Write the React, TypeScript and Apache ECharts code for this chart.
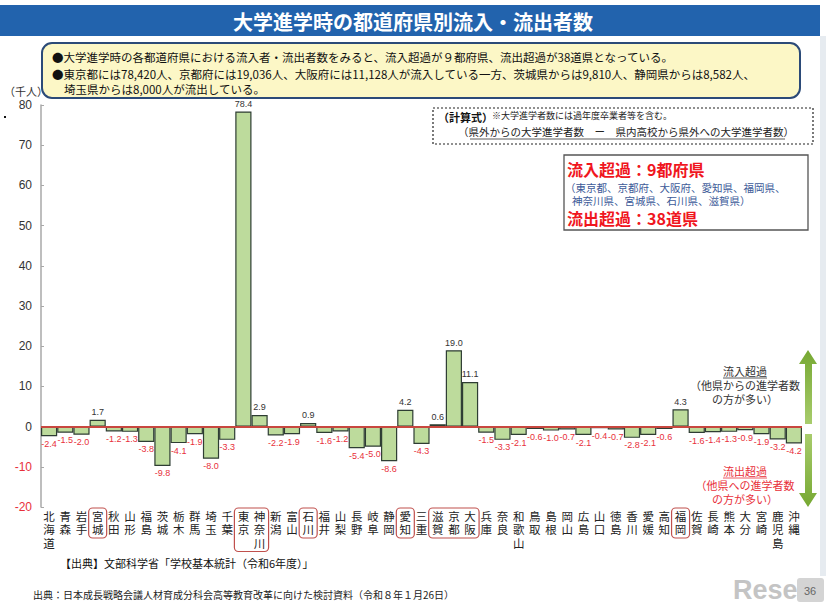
import React, { useEffect, useRef } from "react";
import * as echarts from "echarts";

const prefectures = ["北海道","青森","岩手","宮城","秋田","山形","福島","茨城","栃木","群馬","埼玉","千葉","東京","神奈川","新潟","富山","石川","福井","山梨","長野","岐阜","静岡","愛知","三重","滋賀","京都","大阪","兵庫","奈良","和歌山","鳥取","島根","岡山","広島","山口","徳島","香川","愛媛","高知","福岡","佐賀","長崎","熊本","大分","宮崎","鹿児島","沖縄"];
const netFlow = [-2.4,-1.5,-2.0,1.7,-1.2,-1.3,-3.8,-9.8,-4.1,-1.9,-8.0,-3.3,78.4,2.9,-2.2,-1.9,0.9,-1.6,-1.2,-5.4,-5.0,-8.6,4.2,-4.3,0.6,19.0,11.1,-1.5,-3.3,-2.1,-0.6,-1.0,-0.7,-2.1,-0.4,-0.7,-2.8,-2.1,-0.6,4.3,-1.6,-1.4,-1.3,-0.9,-1.9,-3.2,-4.2];
const boxedGroups = [["宮城","宮城"],["東京","神奈川"],["石川","石川"],["愛知","愛知"],["滋賀","大阪"],["福岡","福岡"]];
const yTicks = { min: -20, max: 80, interval: 10 };

const FONT = '"Noto Sans CJK JP", "Noto Sans", sans-serif';
const RED = "#e8303a";

export default function App() {
  const ref = useRef<HTMLDivElement>(null);
  useEffect(() => {
    if (!ref.current) return;
    const chart = echarts.init(ref.current, null, { renderer: "svg" });
    chart.setOption({
      animation: false,
      textStyle: { fontFamily: FONT },
      grid: { left: 41, right: 24, top: 105, bottom: 97, containLabel: false },
      xAxis: {
        type: "category",
        data: prefectures,
        axisLine: { show: false, onZero: false },
        axisTick: { show: false },
        axisLabel: {
          interval: 0,
          margin: 2,
          fontSize: 11.5,
          lineHeight: 13.5,
          width: 12,
          overflow: "break",
          color: "#222",
          fontFamily: FONT,
        },
      },
      yAxis: {
        type: "value",
        min: yTicks.min,
        max: yTicks.max,
        interval: yTicks.interval,
        splitLine: { show: false },
        axisLine: { show: true, lineStyle: { color: "#a8a8a8", width: 1.5 } },
        axisTick: { show: true, inside: true, length: 3, lineStyle: { color: "#a8a8a8" } },
        axisLabel: {
          margin: 9,
          formatter: (v: number) => (v < 0 ? `{r|${v}}` : `{k|${v}}`),
          rich: {
            r: { color: RED, fontSize: 12, fontFamily: "Liberation Sans, Arial, sans-serif" },
            k: { color: "#333", fontSize: 12, fontFamily: "Liberation Sans, Arial, sans-serif" },
          },
        },
      },
      series: [
        {
          type: "bar",
          data: netFlow.map((v) =>
            v < 0 ? { value: v, label: { position: "bottom" } } : { value: v }
          ),
          barCategoryGap: "0%",
          itemStyle: { color: "#bddb9c", borderColor: "#2e3d33", borderWidth: 1.2 },
          label: {
            show: true,
            fontSize: 9,
            fontFamily: "Liberation Sans, Arial, sans-serif",
            distance: 3,
            formatter: (p: any) => (p.value < 0 ? `{r|${p.value.toFixed(1)}}` : `{k|${p.value.toFixed(1)}}`),
            rich: {
              r: { color: RED, fontSize: 9 },
              k: { color: "#333", fontSize: 9 },
            },
            position: "top",
          },
          markLine: {
            silent: true,
            symbol: "none",
            label: { show: false },
            lineStyle: { color: "#c8473f", width: 1.8, type: "solid" },
            data: [{ yAxis: 0 }],
          },
        },
      ],
    });

    const px = (name: string) =>
      chart.convertToPixel({ xAxisIndex: 0 }, prefectures.indexOf(name)) as number;

    const graphics: any[] = [];
    // title bar
    graphics.push({ type: "rect", shape: { x: 0, y: 5, width: 820, height: 31 }, style: { fill: "#2263ad" } });
    graphics.push({
      type: "text", x: 413, y: 21,
      style: { text: "大学進学時の都道府県別流入・流出者数", fill: "#fff", font: `bold 20px ${FONT}`, align: "center", verticalAlign: "middle" },
    });
    // right edge strip
    graphics.push({ type: "rect", shape: { x: 820, y: 36, width: 6, height: 540 }, style: { fill: "#e6ebf0" } });
    // note box
    graphics.push({
      type: "rect", shape: { x: 42, y: 43, width: 758, height: 55, r: 10 },
      style: { fill: "#fcf7c6", stroke: "#2b4a78", lineWidth: 2 },
    });
    const noteLines = [
      ["●大学進学時の各都道府県における流入者・流出者数をみると、流入超過が９都府県、流出超過が38道県となっている。", 52, 57],
      ["●東京都には78,420人、京都府には19,036人、大阪府には11,128人が流入している一方、茨城県からは9,810人、静岡県からは8,582人、", 52, 74],
      ["埼玉県からは8,000人が流出している。", 64, 89],
    ];
    noteLines.forEach(([t, x, y]) =>
      graphics.push({ type: "text", x, y, style: { text: t, fill: "#111", font: `11.5px ${FONT}`, verticalAlign: "middle" } })
    );
    // unit label
    graphics.push({ type: "text", x: 4, y: 91, style: { text: "（千人）", fill: "#333", font: `11px ${FONT}`, verticalAlign: "middle" } });
    graphics.push({ type: "rect", shape: { x: 4, y: 116, width: 2, height: 2 }, style: { fill: "#111" } });

    // dashed formula box
    graphics.push({
      type: "rect", shape: { x: 433, y: 108, width: 380, height: 36 },
      style: { fill: "none", stroke: "#222", lineWidth: 1.2, lineDash: [2, 2] },
    });
    graphics.push({ type: "text", x: 438, y: 117, style: { text: "（計算式）", fill: "#111", font: `bold 11px ${FONT}`, verticalAlign: "middle" } });
    graphics.push({ type: "text", x: 492, y: 115, style: { text: "※大学進学者数には過年度卒業者等を含む。", fill: "#222", font: `9px ${FONT}`, verticalAlign: "middle" } });
    graphics.push({ type: "text", x: 458, y: 131, style: { text: "（県外からの大学進学者数　ー　県内高校から県外への大学進学者数）", fill: "#222", font: `10.5px ${FONT}`, verticalAlign: "middle" } });
    graphics.push({ type: "line", shape: { x1: 470, y1: 139, x2: 785, y2: 139 }, style: { stroke: "#333", lineWidth: 0.8 } });

    // red summary box
    graphics.push({
      type: "rect", shape: { x: 564, y: 155, width: 244, height: 75 },
      style: { fill: "#fff", stroke: "#555", lineWidth: 1.3 },
    });
    graphics.push({ type: "text", x: 567, y: 169, style: { text: "流入超過：9都府県", fill: "#f0161e", font: `bold 16px ${FONT}`, verticalAlign: "middle" } });
    graphics.push({ type: "text", x: 565, y: 187, style: { text: "（東京都、京都府、大阪府、愛知県、福岡県、", fill: "#3c5a98", font: `10.5px ${FONT}`, verticalAlign: "middle" } });
    graphics.push({ type: "text", x: 572, y: 200, style: { text: "神奈川県、宮城県、石川県、滋賀県）", fill: "#3c5a98", font: `10.5px ${FONT}`, verticalAlign: "middle" } });
    graphics.push({ type: "text", x: 567, y: 218, style: { text: "流出超過：38道県", fill: "#f0161e", font: `bold 16px ${FONT}`, verticalAlign: "middle" } });

    // arrows
    const green = new echarts.graphic.LinearGradient(0, 0, 0, 1, [
      { offset: 0, color: "#76a832" },
      { offset: 1, color: "#a8cc6c" },
    ]);
    const green2 = new echarts.graphic.LinearGradient(0, 0, 0, 1, [
      { offset: 0, color: "#a8cc6c" },
      { offset: 1, color: "#76a832" },
    ]);
    graphics.push({
      type: "polygon",
      shape: { points: [[808, 350], [817, 364], [812, 364], [812, 424], [805, 424], [805, 364], [799, 364]] },
      style: { fill: green },
    });
    graphics.push({
      type: "polygon",
      shape: { points: [[805, 434], [812, 434], [812, 493], [817, 493], [808, 507], [799, 493], [805, 493]] },
      style: { fill: green2 },
    });
    const upText = [["流入超過", 371], ["（他県からの進学者数", 385], ["の方が多い）", 399]];
    upText.forEach(([t, y]) =>
      graphics.push({ type: "text", x: 745, y, style: { text: t, fill: "#333", font: `11px ${FONT}`, align: "center", verticalAlign: "middle" } })
    );
    graphics.push({ type: "line", shape: { x1: 723, y1: 378, x2: 767, y2: 378 }, style: { stroke: "#333", lineWidth: 0.8 } });
    const downText = [["流出超過", 471], ["（他県への進学者数", 485], ["の方が多い）", 499]];
    downText.forEach(([t, y]) =>
      graphics.push({ type: "text", x: 745, y, style: { text: t, fill: RED, font: `11px ${FONT}`, align: "center", verticalAlign: "middle" } })
    );
    graphics.push({ type: "line", shape: { x1: 723, y1: 478, x2: 767, y2: 478 }, style: { stroke: RED, lineWidth: 0.8 } });

    // boxed prefecture labels
    boxedGroups.forEach(([a, b]) => {
      const i0 = prefectures.indexOf(a);
      const i1 = prefectures.indexOf(b);
      let maxLen = 0;
      for (let i = i0; i <= i1; i++) maxLen = Math.max(maxLen, prefectures[i].length);
      const x0 = px(a) - 9;
      const x1 = px(b) + 9;
      graphics.push({
        type: "rect",
        shape: { x: x0, y: 508, width: x1 - x0, height: 13.5 * maxLen + 3, r: 4 },
        style: { fill: "none", stroke: "#c0504d", lineWidth: 1.2 },
      });
    });

    // sources
    graphics.push({ type: "text", x: 60, y: 563, style: { text: "【出典】文部科学省「学校基本統計（令和6年度）」", fill: "#111", font: `11px ${FONT}`, verticalAlign: "middle" } });
    graphics.push({ type: "text", x: 33, y: 594, style: { text: "出典：日本成長戦略会議人材育成分科会高等教育改革に向けた検討資料（令和８年１月26日）", fill: "#222", font: `10px ${FONT}`, verticalAlign: "middle" } });
    graphics.push({ type: "text", x: 733, y: 590, style: { text: "Rese", fill: "#c4c4c4", font: `bold 27px "Liberation Sans", Arial, sans-serif`, verticalAlign: "middle" } });
    graphics.push({ type: "rect", shape: { x: 797, y: 578, width: 27, height: 24, r: 3 }, style: { fill: "#d4d4d4" } });
    graphics.push({ type: "text", x: 810, y: 591, style: { text: "36", fill: "#666", font: `11px "Liberation Sans", Arial, sans-serif`, align: "center", verticalAlign: "middle" } });

    chart.setOption({ graphic: graphics });

    return () => chart.dispose();
  }, []);
  return (
    <div
      ref={ref}
      style={{ position: "fixed", left: 0, top: 0, width: 826, height: 604, background: "#fff" }}
    />
  );
}
